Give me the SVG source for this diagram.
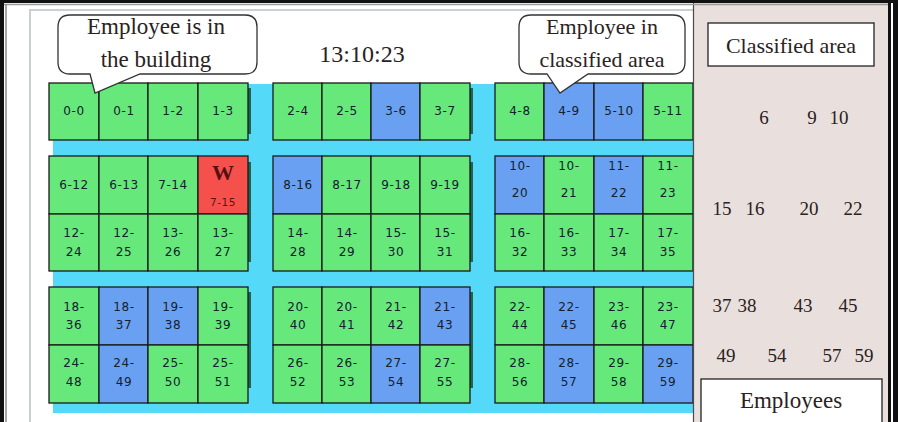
<svg xmlns="http://www.w3.org/2000/svg" width="898" height="422" viewBox="0 0 898 422">
<style>
.g{fill:#67e87b;stroke:#1a1a1a;stroke-width:1.3}
.b{fill:#6aa0f2;stroke:#1a1a1a;stroke-width:1.3}
.r{fill:#f5504c;stroke:#1a1a1a;stroke-width:1.3}
.l{font-family:"DejaVu Sans",sans-serif;font-size:12px;fill:#14202e;text-anchor:middle;letter-spacing:0.6px}
.s{font-family:"Liberation Serif","DejaVu Serif",serif;fill:#2a2222;text-anchor:middle}
.sh{fill:#1f6550}
.co{fill:#ffffff;stroke:#333333;stroke-width:1.3}
</style>
<rect x="0" y="0" width="898" height="422" fill="#ffffff"/>
<rect x="30" y="10" width="670" height="430" fill="none" stroke="#c9cfd2" stroke-width="2"/>
<rect x="53" y="84" width="642" height="329" fill="#55d9f8"/>
<g id="shadows">
<rect class="sh" x="248" y="88" width="3" height="46"/>
<rect class="sh" x="470" y="88" width="3" height="46"/>
<rect class="sh" x="248" y="162" width="3" height="100"/>
<rect class="sh" x="470" y="162" width="3" height="100"/>
<rect class="sh" x="248" y="292" width="3" height="96"/>
<rect class="sh" x="470" y="292" width="3" height="96"/>
</g>
<g id="tiles">
<g id="t0-0"><rect class="g" x="49" y="83" width="50" height="57"/><text class="l" x="74" y="115">0-0</text></g>
<g id="t0-1"><rect class="g" x="99" y="83" width="49" height="57"/><text class="l" x="124" y="115">0-1</text></g>
<g id="t1-2"><rect class="g" x="148" y="83" width="50" height="57"/><text class="l" x="173" y="115">1-2</text></g>
<g id="t1-3"><rect class="g" x="198" y="83" width="50" height="57"/><text class="l" x="223" y="115">1-3</text></g>
<g id="t2-4"><rect class="g" x="273" y="83" width="49" height="57"/><text class="l" x="298" y="115">2-4</text></g>
<g id="t2-5"><rect class="g" x="322" y="83" width="49" height="57"/><text class="l" x="347" y="115">2-5</text></g>
<g id="t3-6"><rect class="b" x="371" y="83" width="49" height="57"/><text class="l" x="396" y="115">3-6</text></g>
<g id="t3-7"><rect class="g" x="420" y="83" width="50" height="57"/><text class="l" x="445" y="115">3-7</text></g>
<g id="t4-8"><rect class="g" x="495" y="83" width="49" height="57"/><text class="l" x="520" y="115">4-8</text></g>
<g id="t4-9"><rect class="b" x="544" y="83" width="50" height="57"/><text class="l" x="569" y="115">4-9</text></g>
<g id="t5-10"><rect class="b" x="594" y="83" width="49" height="57"/><text class="l" x="619" y="115">5-10</text></g>
<g id="t5-11"><rect class="g" x="643" y="83" width="50" height="57"/><text class="l" x="668" y="115">5-11</text></g>

<g id="t6-12"><rect class="g" x="49" y="156" width="50" height="58"/><text class="l" x="74" y="189">6-12</text></g>
<g id="t6-13"><rect class="g" x="99" y="156" width="49" height="58"/><text class="l" x="124" y="189">6-13</text></g>
<g id="t7-14"><rect class="g" x="148" y="156" width="50" height="58"/><text class="l" x="173" y="189">7-14</text></g>
<g id="t7-15"><rect class="r" x="198" y="156" width="50" height="58"/><text x="223" y="180" font-family="Liberation Serif, serif" font-weight="bold" font-size="22" fill="#551111" text-anchor="middle">W</text><text class="l" x="223" y="206" style="fill:#5a1515;font-size:10.5px">7-15</text></g>
<g id="t8-16"><rect class="b" x="273" y="156" width="49" height="58"/><text class="l" x="298" y="189">8-16</text></g>
<g id="t8-17"><rect class="g" x="322" y="156" width="49" height="58"/><text class="l" x="347" y="189">8-17</text></g>
<g id="t9-18"><rect class="g" x="371" y="156" width="49" height="58"/><text class="l" x="396" y="189">9-18</text></g>
<g id="t9-19"><rect class="g" x="420" y="156" width="50" height="58"/><text class="l" x="445" y="189">9-19</text></g>
<g id="t10-20"><rect class="b" x="495" y="156" width="49" height="58"/><text class="l" x="520" y="170">10-</text><text class="l" x="520" y="197">20</text></g>
<g id="t10-21"><rect class="g" x="544" y="156" width="50" height="58"/><text class="l" x="569" y="170">10-</text><text class="l" x="569" y="197">21</text></g>
<g id="t11-22"><rect class="b" x="594" y="156" width="49" height="58"/><text class="l" x="619" y="170">11-</text><text class="l" x="619" y="197">22</text></g>
<g id="t11-23"><rect class="g" x="643" y="156" width="50" height="58"/><text class="l" x="668" y="170">11-</text><text class="l" x="668" y="197">23</text></g>

<g id="t12-24"><rect class="g" x="49" y="214" width="50" height="57"/><text class="l" x="74" y="237">12-</text><text class="l" x="74" y="256">24</text></g>
<g id="t12-25"><rect class="g" x="99" y="214" width="49" height="57"/><text class="l" x="124" y="237">12-</text><text class="l" x="124" y="256">25</text></g>
<g id="t13-26"><rect class="g" x="148" y="214" width="50" height="57"/><text class="l" x="173" y="237">13-</text><text class="l" x="173" y="256">26</text></g>
<g id="t13-27"><rect class="g" x="198" y="214" width="50" height="57"/><text class="l" x="223" y="237">13-</text><text class="l" x="223" y="256">27</text></g>
<g id="t14-28"><rect class="g" x="273" y="214" width="49" height="57"/><text class="l" x="298" y="237">14-</text><text class="l" x="298" y="256">28</text></g>
<g id="t14-29"><rect class="g" x="322" y="214" width="49" height="57"/><text class="l" x="347" y="237">14-</text><text class="l" x="347" y="256">29</text></g>
<g id="t15-30"><rect class="g" x="371" y="214" width="49" height="57"/><text class="l" x="396" y="237">15-</text><text class="l" x="396" y="256">30</text></g>
<g id="t15-31"><rect class="g" x="420" y="214" width="50" height="57"/><text class="l" x="445" y="237">15-</text><text class="l" x="445" y="256">31</text></g>
<g id="t16-32"><rect class="g" x="495" y="214" width="49" height="57"/><text class="l" x="520" y="237">16-</text><text class="l" x="520" y="256">32</text></g>
<g id="t16-33"><rect class="g" x="544" y="214" width="50" height="57"/><text class="l" x="569" y="237">16-</text><text class="l" x="569" y="256">33</text></g>
<g id="t17-34"><rect class="g" x="594" y="214" width="49" height="57"/><text class="l" x="619" y="237">17-</text><text class="l" x="619" y="256">34</text></g>
<g id="t17-35"><rect class="g" x="643" y="214" width="50" height="57"/><text class="l" x="668" y="237">17-</text><text class="l" x="668" y="256">35</text></g>

<g id="t18-36"><rect class="g" x="49" y="287" width="50" height="58"/><text class="l" x="74" y="311">18-</text><text class="l" x="74" y="329">36</text></g>
<g id="t18-37"><rect class="b" x="99" y="287" width="49" height="58"/><text class="l" x="124" y="311">18-</text><text class="l" x="124" y="329">37</text></g>
<g id="t19-38"><rect class="b" x="148" y="287" width="50" height="58"/><text class="l" x="173" y="311">19-</text><text class="l" x="173" y="329">38</text></g>
<g id="t19-39"><rect class="g" x="198" y="287" width="50" height="58"/><text class="l" x="223" y="311">19-</text><text class="l" x="223" y="329">39</text></g>
<g id="t20-40"><rect class="g" x="273" y="287" width="49" height="58"/><text class="l" x="298" y="311">20-</text><text class="l" x="298" y="329">40</text></g>
<g id="t20-41"><rect class="g" x="322" y="287" width="49" height="58"/><text class="l" x="347" y="311">20-</text><text class="l" x="347" y="329">41</text></g>
<g id="t21-42"><rect class="g" x="371" y="287" width="49" height="58"/><text class="l" x="396" y="311">21-</text><text class="l" x="396" y="329">42</text></g>
<g id="t21-43"><rect class="b" x="420" y="287" width="50" height="58"/><text class="l" x="445" y="311">21-</text><text class="l" x="445" y="329">43</text></g>
<g id="t22-44"><rect class="g" x="495" y="287" width="49" height="58"/><text class="l" x="520" y="311">22-</text><text class="l" x="520" y="329">44</text></g>
<g id="t22-45"><rect class="b" x="544" y="287" width="50" height="58"/><text class="l" x="569" y="311">22-</text><text class="l" x="569" y="329">45</text></g>
<g id="t23-46"><rect class="g" x="594" y="287" width="49" height="58"/><text class="l" x="619" y="311">23-</text><text class="l" x="619" y="329">46</text></g>
<g id="t23-47"><rect class="g" x="643" y="287" width="50" height="58"/><text class="l" x="668" y="311">23-</text><text class="l" x="668" y="329">47</text></g>

<g id="t24-48"><rect class="g" x="49" y="345" width="50" height="58"/><text class="l" x="74" y="367">24-</text><text class="l" x="74" y="386">48</text></g>
<g id="t24-49"><rect class="b" x="99" y="345" width="49" height="58"/><text class="l" x="124" y="367">24-</text><text class="l" x="124" y="386">49</text></g>
<g id="t25-50"><rect class="g" x="148" y="345" width="50" height="58"/><text class="l" x="173" y="367">25-</text><text class="l" x="173" y="386">50</text></g>
<g id="t25-51"><rect class="g" x="198" y="345" width="50" height="58"/><text class="l" x="223" y="367">25-</text><text class="l" x="223" y="386">51</text></g>
<g id="t26-52"><rect class="g" x="273" y="345" width="49" height="58"/><text class="l" x="298" y="367">26-</text><text class="l" x="298" y="386">52</text></g>
<g id="t26-53"><rect class="g" x="322" y="345" width="49" height="58"/><text class="l" x="347" y="367">26-</text><text class="l" x="347" y="386">53</text></g>
<g id="t27-54"><rect class="b" x="371" y="345" width="49" height="58"/><text class="l" x="396" y="367">27-</text><text class="l" x="396" y="386">54</text></g>
<g id="t27-55"><rect class="g" x="420" y="345" width="50" height="58"/><text class="l" x="445" y="367">27-</text><text class="l" x="445" y="386">55</text></g>
<g id="t28-56"><rect class="g" x="495" y="345" width="49" height="58"/><text class="l" x="520" y="367">28-</text><text class="l" x="520" y="386">56</text></g>
<g id="t28-57"><rect class="b" x="544" y="345" width="50" height="58"/><text class="l" x="569" y="367">28-</text><text class="l" x="569" y="386">57</text></g>
<g id="t29-58"><rect class="g" x="594" y="345" width="49" height="58"/><text class="l" x="619" y="367">29-</text><text class="l" x="619" y="386">58</text></g>
<g id="t29-59"><rect class="b" x="643" y="345" width="50" height="58"/><text class="l" x="668" y="367">29-</text><text class="l" x="668" y="386">59</text></g>
</g>
<g id="callout-building">
<path class="co" d="M70,15 H245 Q257,15 257,27 V62 Q257,74 245,74 H140 L95,93 L90,74 H70 Q58,74 58,62 V27 Q58,15 70,15 Z"/>
<text class="s" x="156" y="34" font-size="23">Employee is in</text>
<text class="s" x="156" y="67" font-size="23">the building</text>
</g>
<g id="callout-classified">
<path class="co" d="M531,15 H673 Q685,15 685,27 V62 Q685,74 673,74 H588 L560,93 L547,74 H531 Q519,74 519,62 V27 Q519,15 531,15 Z"/>
<text class="s" x="602" y="34" font-size="22">Employee in</text>
<text class="s" x="602" y="67" font-size="22">classified area</text>
</g>
<g id="clock">
<text class="s" x="362" y="62" font-size="24">13:10:23</text>
</g>
<g id="panel">
<rect x="693" y="0" width="197" height="422" fill="#e9e0dd"/>
<line x1="693.5" y1="0" x2="693.5" y2="422" stroke="#4a4a4a" stroke-width="1.2"/>
<g id="classified-box">
<rect x="708" y="23" width="166" height="43" fill="#ffffff" stroke="#222" stroke-width="1.3"/>
<text class="s" x="791" y="53" font-size="22">Classified area</text>
</g>
<g id="ids">
<text class="s" x="764" y="124" font-size="19">6</text>
<text class="s" x="812" y="124" font-size="19">9</text>
<text class="s" x="839" y="124" font-size="19">10</text>
<text class="s" x="722" y="215" font-size="19">15</text>
<text class="s" x="755" y="215" font-size="19">16</text>
<text class="s" x="809" y="215" font-size="19">20</text>
<text class="s" x="853" y="215" font-size="19">22</text>
<text class="s" x="722" y="312" font-size="19">37</text>
<text class="s" x="747" y="312" font-size="19">38</text>
<text class="s" x="803" y="312" font-size="19">43</text>
<text class="s" x="848" y="312" font-size="19">45</text>
<text class="s" x="726" y="362" font-size="19">49</text>
<text class="s" x="777" y="362" font-size="19">54</text>
<text class="s" x="832" y="362" font-size="19">57</text>
<text class="s" x="864" y="362" font-size="19">59</text>
</g>
<g id="employees-box">
<rect x="701" y="379" width="181" height="60" fill="#ffffff" stroke="#222" stroke-width="1.3"/>
<text class="s" x="791" y="408" font-size="23">Employees</text>
</g>
</g>
<g id="connectors"></g>
<g id="frame">
<rect x="0" y="0" width="898" height="3" fill="#111"/>
<line x1="4" y1="4.5" x2="890" y2="4.5" stroke="#9a9a9a" stroke-width="1.5"/>
<rect x="0" y="0" width="4" height="422" fill="#111"/>
<line x1="6" y1="4" x2="6" y2="422" stroke="#8a8a8a" stroke-width="1.5"/>
<rect x="888" y="0" width="3" height="422" fill="#111"/>
<rect x="893" y="0" width="5" height="422" fill="#111"/>
</g>
</svg>
